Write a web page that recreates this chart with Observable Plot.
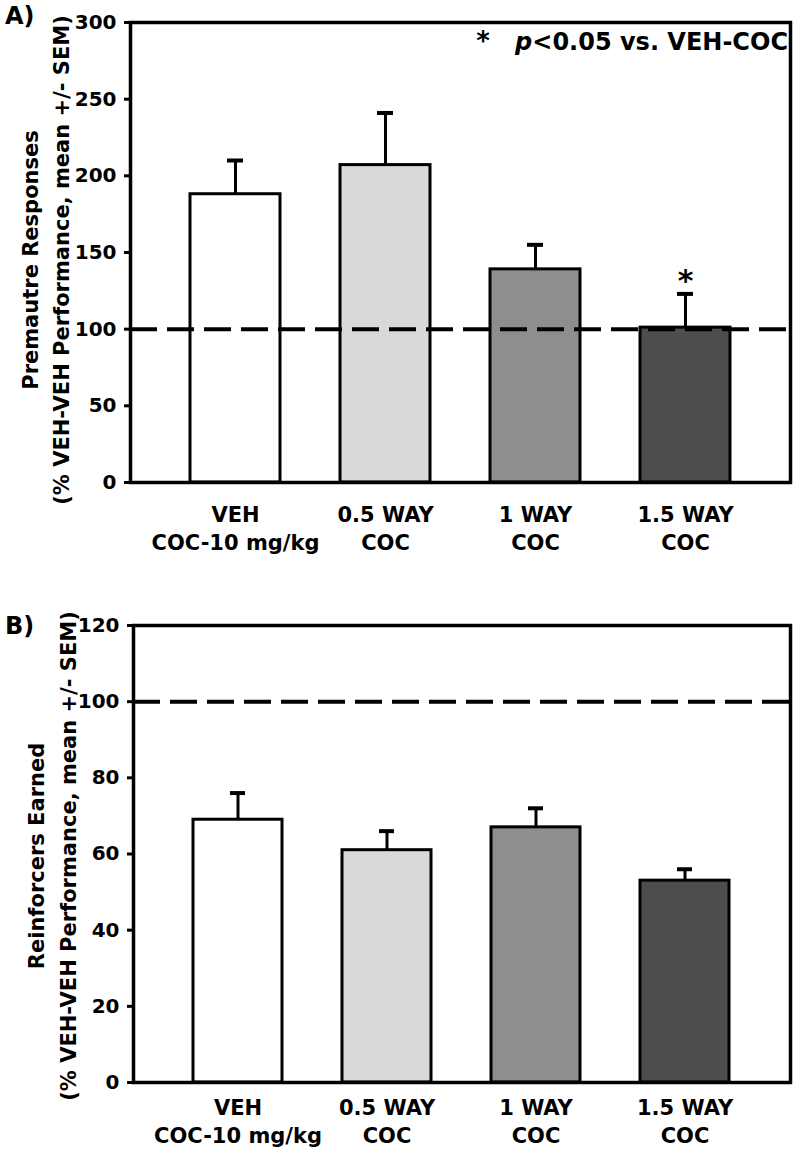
<!DOCTYPE html>
<html>
<head>
<meta charset="utf-8">
<script src="https://cdn.jsdelivr.net/npm/d3@7"></script>
<script src="https://cdn.jsdelivr.net/npm/@observablehq/plot@0.6"></script>
<style>
  html, body { margin: 0; padding: 0; background: #fff; }
  #chart svg { display: block; }
</style>
</head>
<body>
<div id="chart"></div>
<script>
// ---- data ----
const groups = ["VEH\nCOC-10 mg/kg", "0.5 WAY\nCOC", "1 WAY\nCOC", "1.5 WAY\nCOC"];
const barFills = ["#ffffff", "#d9d9d9", "#8e8e8e", "#4d4d4d"];
const prematureMean = [188, 207, 139, 101];
const prematureSem = [22, 34, 16, 22];
const prematureSig = ["", "", "", "*"];
const reinforcerMean = [69, 61, 67, 53];
const reinforcerSem = [7, 5, 5, 3];
const yTicksA = [0, 50, 100, 150, 200, 250, 300];
const yTicksB = [0, 20, 40, 60, 80, 100, 120];
const baseline = [100];

const FONT = "DejaVu Sans";

function rows(means, sems, sig) {
  return groups.map((g, i) => ({g, v: means[i], sem: sems[i], top: means[i] + sems[i], fill: barFills[i], sig: sig ? sig[i] : ""}));
}

function panel({data, yDomain, yTicks, height, marginTop, marginBottom, marginLeft, xPad}) {
  return Plot.plot({
    width: 800,
    height,
    marginTop,
    marginBottom,
    marginLeft,
    marginRight: 10,
    style: {fontFamily: FONT, fontWeight: "bold", color: "#000", background: "#fff"},
    x: {domain: groups, paddingInner: 0.4, paddingOuter: 0.4, label: null},
    y: {domain: yDomain, label: null},
    color: {type: "identity"},
    marks: [
      Plot.ruleX(data, {x: "g", y1: "v", y2: "top", stroke: "#000", strokeWidth: 3}),
      Plot.tickY(data, {x: "g", y: "top", stroke: "#000", strokeWidth: 4, insetLeft: 37, insetRight: 37}),
      Plot.barY(data, {x: "g", y: "v", fill: "fill", stroke: "#000", strokeWidth: 3}),
      Plot.ruleY(baseline, {stroke: "#000", strokeWidth: 4, strokeDasharray: "27,10"}),
      Plot.text(data, {x: "g", y: "top", text: "sig", fontSize: 30, dy: -13, fill: "#000"}),
      Plot.frame({stroke: "#000", strokeWidth: 3.5}),
      Plot.axisY({ticks: yTicks, tickSize: 6, tickPadding: 8, fontSize: 20, strokeWidth: 3, label: null}),
      Plot.axisX({tickSize: 0, tickPadding: xPad, fontSize: 21, lineHeight: 1.33, label: null})
    ]
  });
}

function addText(svg, str, x, y, size, opts = {}) {
  const t = d3.select(svg).append("text")
    .attr("font-family", FONT)
    .attr("font-weight", "bold")
    .attr("font-size", size)
    .attr("fill", "#000")
    .attr("text-anchor", opts.anchor || "start")
    .attr("transform", `translate(${x},${y})` + (opts.rotate ? ` rotate(${opts.rotate})` : ""))
    .text(str);
  return t;
}

const svgA = panel({
  data: rows(prematureMean, prematureSem, prematureSig),
  yDomain: [0, 300], yTicks: yTicksA,
  height: 565, marginTop: 22, marginBottom: 83, marginLeft: 130, xPad: 20
});
addText(svgA, "A)", 5, 24, 24);
addText(svgA, "Premautre Responses", 38, 260, 21, {anchor: "middle", rotate: -90});
addText(svgA, "(% VEH-VEH Performance, mean +/- SEM)", 69, 260, 21, {anchor: "middle", rotate: -90});
addText(svgA, "*", 483, 50, 26, {anchor: "middle"});
{
  const t = d3.select(svgA).append("text")
    .attr("font-family", FONT).attr("font-weight", "bold").attr("font-size", 24)
    .attr("fill", "#000").attr("text-anchor", "end")
    .attr("x", 788).attr("y", 50);
  t.append("tspan").attr("font-style", "italic").text("p");
  t.append("tspan").text("<0.05 vs. VEH-COC");
}

const svgB = panel({
  data: rows(reinforcerMean, reinforcerSem, null),
  yDomain: [0, 120], yTicks: yTicksB,
  height: 585, marginTop: 60, marginBottom: 68, marginLeft: 133, xPad: 13
});
addText(svgB, "B)", 5, 69, 24);
addText(svgB, "Reinforcers Earned", 44, 291, 21, {anchor: "middle", rotate: -90});
addText(svgB, "(% VEH-VEH Performance, mean +/- SEM)", 76, 291, 21, {anchor: "middle", rotate: -90});

document.getElementById("chart").append(svgA, svgB);
</script>
</body>
</html>
